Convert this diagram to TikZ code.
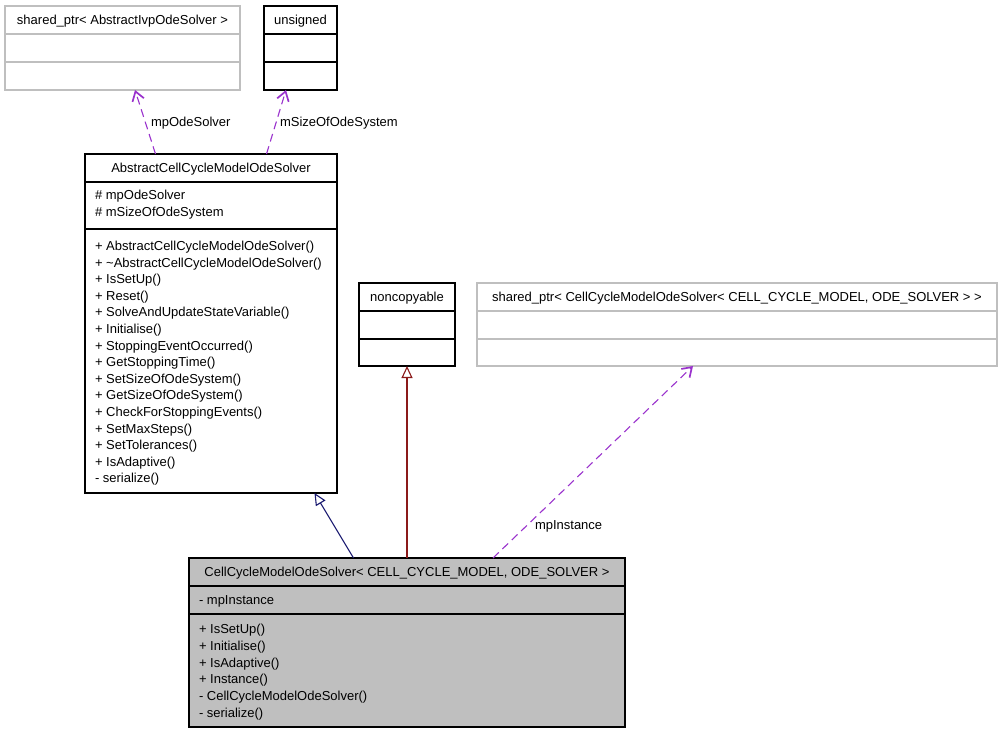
\documentclass[tikz,border=0pt]{standalone}
\usepackage{fontspec}
\setmainfont{Liberation Sans}
\usetikzlibrary{arrows.meta,calc}
\definecolor{dgray}{HTML}{BFBFBF}
\definecolor{assocc}{HTML}{9A32CD}
\definecolor{navyc}{HTML}{191970}
\definecolor{redc}{HTML}{8B1A1A}
\begin{document}
\begin{tikzpicture}[x=1pt,y=-1pt,
  txt/.style={inner sep=0pt, outer sep=0pt, font=\fontsize{13}{15}\selectfont},
  box/.style={draw=black, line width=1.1pt, inner sep=0pt, outer sep=0pt, anchor=north west},
  lbox/.style={box, draw=dgray},
  divb/.style={draw=black, line width=1.1pt},
  divl/.style={draw=dgray, line width=1.1pt},
  assoc/.style={draw=assocc, line width=1.1pt, dash pattern=on 8pt off 5pt, -{Straight Barb[length=9pt,width=12pt,line width=1.7pt]}},
  inhnavy/.style={draw=navyc, line width=1.1pt, -{Triangle[open,length=12pt,width=11pt,line width=1.1pt]}},
  inhred/.style={draw=redc, line width=1.1pt, -{Triangle[open,length=12pt,width=11pt,line width=1.1pt]}}
]
\useasboundingbox[fill=white] (0,0) rectangle (1003,733);

% ---- shared_ptr< AbstractIvpOdeSolver >
\node[lbox, minimum width=235pt, minimum height=84pt] (sp1) at (5,6) {};
\draw[divl] (5,34) -- (240,34);
\draw[divl] (5,62) -- (240,62);
\node[txt, anchor=base] (sp1t) at (122.5,24.5) {shared\_ptr< AbstractIvpOdeSolver >};

% ---- unsigned
\node[box, minimum width=73pt, minimum height=84pt] (uns) at (264,6) {};
\draw[divb] (264,34) -- (337,34);
\draw[divb] (264,62) -- (337,62);
\node[txt, anchor=base] (unst) at (300.5,24.5) {unsigned};

% ---- AbstractCellCycleModelOdeSolver
\node[box, minimum width=252pt, minimum height=339pt] (abs) at (85,154) {};
\draw[divb] (85,182) -- (337,182);
\draw[divb] (85,229) -- (337,229);
\node[txt, anchor=base] (abst) at (211,172.5) {AbstractCellCycleModelOdeSolver};
\node[txt, anchor=base west] (absa1) at (95,199.5) {\# mpOdeSolver};
\node[txt, anchor=base west] (absa2) at (95,216.5) {\# mSizeOfOdeSystem};
\foreach \t [count=\i from 0] in {
  {+ AbstractCellCycleModelOdeSolver()},
  {+ \textasciitilde AbstractCellCycleModelOdeSolver()},
  {+ IsSetUp()},
  {+ Reset()},
  {+ SolveAndUpdateStateVariable()},
  {+ Initialise()},
  {+ StoppingEventOccurred()},
  {+ GetStoppingTime()},
  {+ SetSizeOfOdeSystem()},
  {+ GetSizeOfOdeSystem()},
  {+ CheckForStoppingEvents()},
  {+ SetMaxSteps()},
  {+ SetTolerances()},
  {+ IsAdaptive()},
  {- serialize()}}
  \node[txt, anchor=base west] (absm\i) at (95,250.5+16.6*\i) {\t};

% ---- noncopyable
\node[box, minimum width=96pt, minimum height=83pt] (nc) at (359,283) {};
\draw[divb] (359,311) -- (455,311);
\draw[divb] (359,339) -- (455,339);
\node[txt, anchor=base] (nct) at (407,301.5) {noncopyable};

% ---- shared_ptr< CellCycleModelOdeSolver<...> >
\node[lbox, minimum width=520pt, minimum height=83pt] (sp2) at (477,283) {};
\draw[divl] (477,311) -- (997,311);
\draw[divl] (477,339) -- (997,339);
\node[txt, anchor=base] (sp2t) at (737,301.5) {shared\_ptr< CellCycleModelOdeSolver< CELL\_CYCLE\_MODEL, ODE\_SOLVER > >};

% ---- CellCycleModelOdeSolver (main)
\node[box, fill=dgray, minimum width=436pt, minimum height=169pt] (main) at (189,558) {};
\draw[divb] (189,586) -- (625,586);
\draw[divb] (189,614) -- (625,614);
\node[txt, anchor=base] (maint) at (407,576.5) {CellCycleModelOdeSolver< CELL\_CYCLE\_MODEL, ODE\_SOLVER >};
\node[txt, anchor=base west] (maina1) at (199,604.5) {- mpInstance};
\foreach \t [count=\i from 0] in {
  {+ IsSetUp()},
  {+ Initialise()},
  {+ IsAdaptive()},
  {+ Instance()},
  {- CellCycleModelOdeSolver()},
  {- serialize()}}
  \node[txt, anchor=base west] (mainm\i) at (199,633.5+16.8*\i) {\t};

% ---- connectors
\coordinate (s1) at ($(abs.north west)+(70.5,0)$);
\coordinate (e1) at ($(sp1.south west)+(130,0)$);
\draw[assoc] (s1) -- (e1);
\node[txt, anchor=base west] (l1) at (151,126) {mpOdeSolver};

\coordinate (s2) at ($(abs.north west)+(181.5,0)$);
\coordinate (e2) at ($(uns.south west)+(22,0)$);
\draw[assoc] (s2) -- (e2);
\node[txt, anchor=base west] (l2) at (280,126) {mSizeOfOdeSystem};

\coordinate (s3) at ($(main.north west)+(164.5,0)$);
\coordinate (e3) at ($(abs.south west)+(229.5,0)$);
\draw[inhnavy] (s3) -- (e3);

\coordinate (s4) at ($(main.north west)+(218,0)$);
\draw[inhred] (s4) -- (nc.south);

\coordinate (s5) at ($(main.north west)+(304,0)$);
\coordinate (e5) at ($(sp2.south west)+(216,0)$);
\draw[assoc] (s5) -- (e5);
\node[txt, anchor=base west] (l3) at (535,529.5) {mpInstance};
\end{tikzpicture}
\end{document}
